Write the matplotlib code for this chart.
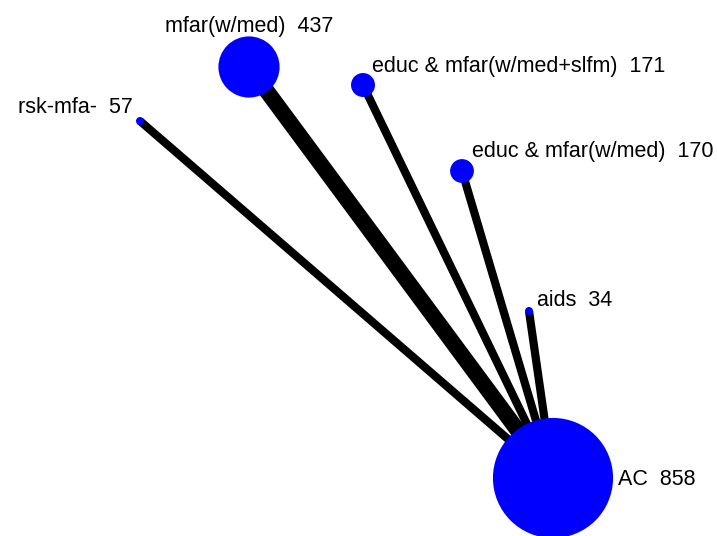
import matplotlib.pyplot as plt
from matplotlib.patches import Circle

plt.rcParams['font.family'] = ['Liberation Sans', 'DejaVu Sans']

# treatments, number of participants and layout position (pixels, y downwards)
treatments = ['AC', 'mfar(w/med)', 'educ & mfar(w/med+slfm)',
              'educ & mfar(w/med)', 'aids', 'rsk-mfa-']
participants = [858, 437, 171, 170, 34, 57]
node_x = [553, 249, 363, 462, 529, 140]
node_y = [478, 67, 85, 171, 311, 121]

# direct comparisons (all against AC) and number of studies in each
edges = [('AC', 'mfar(w/med)'), ('AC', 'educ & mfar(w/med+slfm)'),
         ('AC', 'educ & mfar(w/med)'), ('AC', 'aids'), ('AC', 'rsk-mfa-')]
n_studies = [2, 1, 1, 1, 1]

# label placement: (dx, dy, ha, va) relative to node centre
label_pos = {
    'AC': (65, 7, 'left', 'baseline'),
    'mfar(w/med)': (0, -35, 'center', 'baseline'),
    'educ & mfar(w/med+slfm)': (9, -13, 'left', 'baseline'),
    'educ & mfar(w/med)': (10, -14, 'left', 'baseline'),
    'aids': (8, -5, 'left', 'baseline'),
    'rsk-mfa-': (-7, -8, 'right', 'baseline'),
}

fig = plt.figure(figsize=(7.17, 5.36), dpi=100)
ax = fig.add_axes([0, 0, 1, 1])
ax.set_xlim(0, 717)
ax.set_ylim(536, 0)
ax.set_aspect('equal')
ax.axis('off')

pos = {t: (x, y) for t, x, y in zip(treatments, node_x, node_y)}

for (a, b), k in zip(edges, n_studies):
    ax.plot([pos[a][0], pos[b][0]], [pos[a][1], pos[b][1]],
            color='black', lw=5.9 * k if k < 2 else 11.5,
            solid_capstyle='butt', zorder=1)

for t, n in zip(treatments, participants):
    r = max(4, n * 0.07)
    ax.add_patch(Circle(pos[t], r, color='#0000ff', zorder=2, lw=0))
    dx, dy, ha, va = label_pos[t]
    ax.text(pos[t][0] + dx, pos[t][1] + dy, f'{t}  {n}', fontsize=15.5,
            ha=ha, va=va, color='black', zorder=3)

fig.savefig('out.png', dpi=100)
